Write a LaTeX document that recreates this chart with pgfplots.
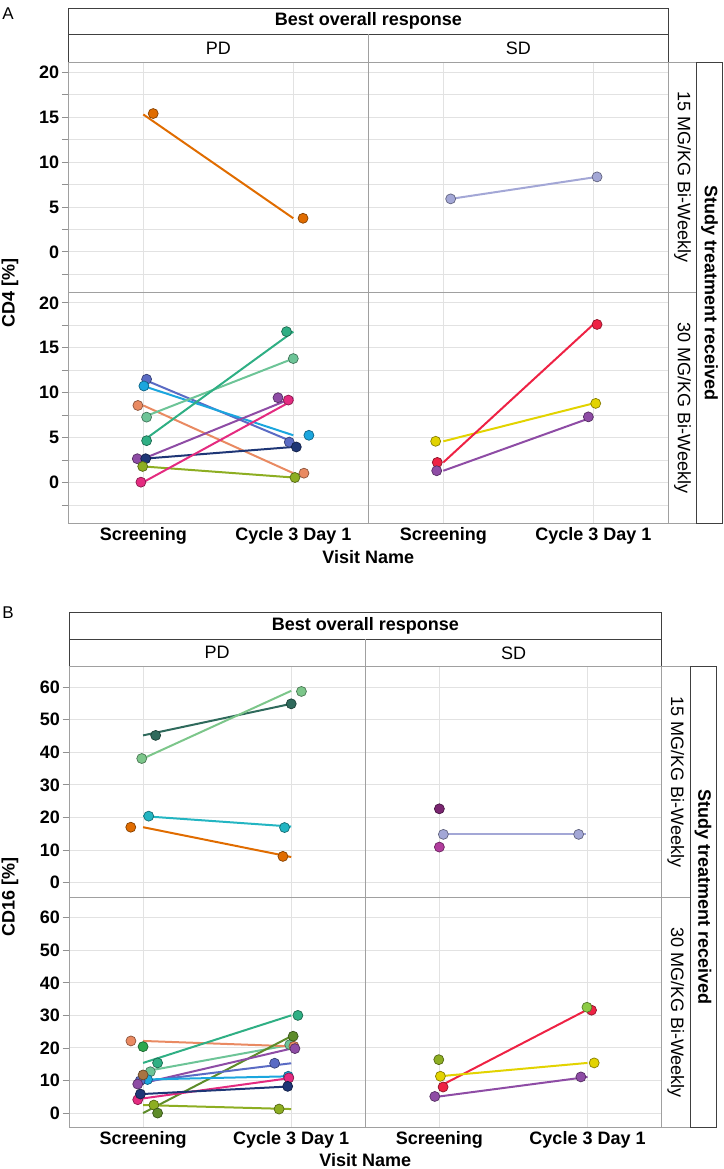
\documentclass[border=0pt]{standalone}
\usepackage{fontspec}
\setmainfont{Liberation Sans}
\usepackage{pgfplots}
\pgfplotsset{compat=1.18}
\definecolor{framegray}{HTML}{A0A0A0}
\definecolor{gridgray}{HTML}{E2E2E2}
\definecolor{tickgray}{HTML}{909090}
\definecolor{boxdark}{HTML}{404040}
\definecolor{cOrange}{HTML}{E06C00}
\definecolor{cLav}{HTML}{A3A7D6}
\definecolor{cSlate}{HTML}{5A6BC4}
\definecolor{cCyan}{HTML}{1BA6DE}
\definecolor{cSalmon}{HTML}{E98A62}
\definecolor{cLGreen}{HTML}{6DC497}
\definecolor{cTeal}{HTML}{2FAF84}
\definecolor{cPurple}{HTML}{8E4CA5}
\definecolor{cNavy}{HTML}{1E3676}
\definecolor{cOlive}{HTML}{8DAE22}
\definecolor{cPink}{HTML}{E42B80}
\definecolor{cYellow}{HTML}{E2D300}
\definecolor{cRed}{HTML}{EE2244}
\definecolor{cDTeal}{HTML}{2F6A5C}
\definecolor{cLGreenB}{HTML}{7CC68A}
\definecolor{cCyTeal}{HTML}{23B5C2}
\definecolor{cDMag}{HTML}{7A2570}
\definecolor{cMag}{HTML}{B13C9D}
\definecolor{cGreen}{HTML}{2DA84E}
\definecolor{cBrown}{HTML}{A77443}
\definecolor{cDOlive}{HTML}{5E8C2A}
\definecolor{cLime}{HTML}{8CCB45}
\newcommand\fs{\fontsize{18}{21}\selectfont}
\pgfplotsset{
  facet/.style={
    scale only axis, width=300pt, height=230.65pt,
    xmin=-0.5, xmax=1.5, xtick={0,1}, xticklabels={},
    axis line style={draw=framegray, line width=0.9pt},
    grid=both,
    major grid style={draw=gridgray, line width=0.9pt},
    minor grid style={draw=gridgray, line width=0.9pt},
    tick align=outside, ytick pos=left, xtick pos=bottom,
    xtick style={draw=none},
    ytick style={draw=tickgray, line width=0.8pt},
    major tick length=6.5pt, minor tick length=6.5pt,
    tick label style={font=\fs\bfseries},
    yticklabel style={inner sep=0pt, xshift=-2.5pt},
    xticklabel style={inner sep=0pt, yshift=3pt},
    /pgf/number format/assume math mode=true,
  },
  facetA/.style={facet, ymin=-4.54, ymax=21.14, ytick={0,5,10,15,20}, minor ytick={-2.5,2.5,7.5,12.5,17.5}},
  facetB/.style={facet, width=296.3pt, height=230.5pt, ymin=-4.5, ymax=66.3, ytick={0,10,20,30,40,50,60}},
  right/.style={yticklabels={}, ytick style={draw=none}},
  bottomlab/.style={xticklabels={Screening,Cycle 3 Day 1}},
  ln/.style={line width=2pt, color=#1, mark=none, forget plot},
  pt/.style={only marks, mark=*, mark size=5pt, forget plot, mark options={fill=#1, draw=#1!60!black, line width=0.7pt}},
}
\begin{document}
\begin{tikzpicture}[x=1pt,y=1pt]
\useasboundingbox (0,0) rectangle (723,-1169);
% ================= Panel A =================
\node[font=\fontsize{17}{20}\selectfont] at (8,-13.3) {A};
\draw[boxdark, line width=0.9pt] (68.3,-8.3) rectangle (668.3,-34);
\node[font=\fs\bfseries] at (368.3,-21.2) {Best overall response};
\draw[boxdark, line width=0.9pt] (68.3,-34) rectangle (668.3,-62);
\draw[framegray, line width=0.9pt] (368.3,-34) -- (368.3,-62);
\node[font=\fs] at (218.3,-48) {PD};
\node[font=\fs] at (518.3,-48) {SD};
\draw[framegray, line width=0.9pt] (668.3,-62) rectangle (696.7,-523.3);
\draw[framegray, line width=0.9pt] (668.3,-292.65) -- (696.7,-292.65);
\draw[boxdark, line width=0.9pt] (696.7,-62) rectangle (722.3,-523.3);
\node[font=\fs, rotate=-90] at (682.5,-177.3) {15 MG/KG Bi-Weekly};
\node[font=\fs, rotate=-90] at (682.5,-408) {30 MG/KG Bi-Weekly};
\node[font=\fs\bfseries, rotate=-90] at (709.5,-292.7) {Study treatment received};
\node[font=\fs\bfseries, rotate=90] at (10,-292.7) {CD4 [\%]};
\node[font=\fs\bfseries, inner sep=1pt] at (368.3,-557) {Visit Name};

\begin{axis}[facetA, at={(68.3pt,-62pt)}, anchor=north west]
\addplot[ln=cOrange] coordinates {(0,15.3) (1,3.74)};
\addplot[pt=cOrange] coordinates {(0.066,15.4) (1.065,3.74)};
\end{axis}
\begin{axis}[facetA, right, at={(368.3pt,-62pt)}, anchor=north west]
\addplot[ln=cLav] coordinates {(0.049,5.9) (1.025,8.35)};
\addplot[pt=cLav] coordinates {(0.049,5.9) (1.025,8.35)};
\end{axis}
\begin{axis}[facetA, bottomlab, at={(68.3pt,-292.65pt)}, anchor=north west]
\addplot[ln=cSlate] coordinates {(0,11.5) (1,4.5)};
\addplot[ln=cCyan] coordinates {(0,10.75) (1,5.26)};
\addplot[ln=cSalmon] coordinates {(0,8.58) (1,1.04)};
\addplot[ln=cLGreen] coordinates {(0,7.28) (1,13.8)};
\addplot[ln=cTeal] coordinates {(0,4.66) (1,16.8)};
\addplot[ln=cPurple] coordinates {(0,2.65) (1,9.44)};
\addplot[ln=cNavy] coordinates {(0,2.65) (1,3.96)};
\addplot[ln=cOlive] coordinates {(0,1.79) (1,0.56)};
\addplot[ln=cPink] coordinates {(0,0.04) (1,9.18)};
\addplot[pt=cSlate] coordinates {(0.022,11.5) (0.973,4.5)};
\addplot[pt=cCyan] coordinates {(0.004,10.75) (1.104,5.26)};
\addplot[pt=cSalmon] coordinates {(-0.036,8.58) (1.071,1.04)};
\addplot[pt=cLGreen] coordinates {(0.022,7.28) (1.0,13.8)};
\addplot[pt=cTeal] coordinates {(0.022,4.66) (0.955,16.8)};
\addplot[pt=cPurple] coordinates {(-0.04,2.65) (0.898,9.44)};
\addplot[pt=cNavy] coordinates {(0.016,2.65) (1.02,3.96)};
\addplot[pt=cOlive] coordinates {(-0.004,1.79) (1.011,0.56)};
\addplot[pt=cPink] coordinates {(-0.016,0.04) (0.967,9.18)};
\end{axis}
\begin{axis}[facetA, right, bottomlab, at={(368.3pt,-292.65pt)}, anchor=north west]
\addplot[ln=cYellow] coordinates {(0,4.59) (1,8.81)};
\addplot[ln=cRed] coordinates {(0,2.24) (1,17.6)};
\addplot[ln=cPurple] coordinates {(0,1.31) (1,7.31)};
\addplot[pt=cYellow] coordinates {(-0.051,4.59) (1.016,8.81)};
\addplot[pt=cRed] coordinates {(-0.04,2.24) (1.025,17.6)};
\addplot[pt=cPurple] coordinates {(-0.044,1.31) (0.967,7.31)};
\end{axis}

% ================= Panel B =================
\node[font=\fontsize{17}{20}\selectfont] at (8,-613) {B};
\draw[boxdark, line width=0.9pt] (69,-612.7) rectangle (661.7,-639);
\node[font=\fs\bfseries] at (365.3,-625.8) {Best overall response};
\draw[boxdark, line width=0.9pt] (69,-639) rectangle (661.7,-666.7);
\draw[framegray, line width=0.9pt] (365.3,-639) -- (365.3,-666.7);
\node[font=\fs] at (217.2,-652.8) {PD};
\node[font=\fs] at (513.5,-652.8) {SD};
\draw[framegray, line width=0.9pt] (661.7,-666.7) rectangle (690,-1127.7);
\draw[framegray, line width=0.9pt] (661.7,-897.2) -- (690,-897.2);
\draw[boxdark, line width=0.9pt] (690,-666.7) rectangle (716,-1127.7);
\node[font=\fs, rotate=-90] at (675.8,-782) {15 MG/KG Bi-Weekly};
\node[font=\fs, rotate=-90] at (675.8,-1012.5) {30 MG/KG Bi-Weekly};
\node[font=\fs\bfseries, rotate=-90] at (703,-897.2) {Study treatment received};
\node[font=\fs\bfseries, rotate=90] at (10,-897.2) {CD16 [\%]};
\node[font=\fs\bfseries, inner sep=1pt] at (365.3,-1160.5) {Visit Name};

\begin{axis}[facetB, at={(69pt,-666.7pt)}, anchor=north west]
\addplot[ln=cDTeal] coordinates {(0,45.2) (1,54.9)};
\addplot[ln=cLGreenB] coordinates {(0,38.1) (1,58.9)};
\addplot[ln=cCyTeal] coordinates {(0,20.4) (1,17.2)};
\addplot[ln=cOrange] coordinates {(0,17.0) (1,7.84)};
\addplot[pt=cDTeal] coordinates {(0.085,45.2) (1.0,54.9)};
\addplot[pt=cLGreenB] coordinates {(-0.009,38.1) (1.069,58.7)};
\addplot[pt=cCyTeal] coordinates {(0.038,20.4) (0.955,16.9)};
\addplot[pt=cOrange] coordinates {(-0.083,17.0) (0.944,8.04)};
\end{axis}
\begin{axis}[facetB, right, at={(365.3pt,-666.7pt)}, anchor=north west]
\addplot[ln=cLav] coordinates {(0,14.8) (0.99,14.8)};
\addplot[pt=cDMag] coordinates {(0,22.65)};
\addplot[pt=cMag] coordinates {(0,10.9)};
\addplot[pt=cLav] coordinates {(0.027,14.8) (0.94,14.8)};
\end{axis}
\begin{axis}[facetB, bottomlab, at={(69pt,-897.2pt)}, anchor=north west]
\addplot[ln=cLGreen] coordinates {(0,12.7) (1,21.0)};
\addplot[ln=cSalmon] coordinates {(0,22.15) (1,20.5)};
\addplot[ln=cTeal] coordinates {(0,15.4) (1,30.0)};
\addplot[ln=cDOlive] coordinates {(0,0.0) (1,23.6)};
\addplot[ln=cPurple] coordinates {(0,9.2) (1,19.8)};
\addplot[ln=cSlate] coordinates {(0,9.7) (1,15.3)};
\addplot[ln=cCyan] coordinates {(0,10.3) (1,11.3)};
\addplot[ln=cPink] coordinates {(0,4.5) (1,10.8)};
\addplot[ln=cNavy] coordinates {(0,5.85) (1,8.2)};
\addplot[ln=cOlive] coordinates {(0,2.46) (1,1.23)};
\addplot[pt=cLGreen] coordinates {(0.049,12.7) (0.99,21.0)};
\addplot[pt=cSalmon] coordinates {(-0.082,22.15) (1.018,20.5)};
\addplot[pt=cGreen] coordinates {(0,20.4)};
\addplot[pt=cTeal] coordinates {(0.098,15.4) (1.045,30.0)};
\addplot[pt=cCyan] coordinates {(0.03,10.3) (0.98,11.3)};
\addplot[pt=cSlate] coordinates {(-0.02,9.9) (0.888,15.3)};
\addplot[pt=cBrown] coordinates {(0,11.7)};
\addplot[pt=cPurple] coordinates {(-0.036,8.9) (1.025,19.8)};
\addplot[pt=cPink] coordinates {(-0.036,4.1) (0.984,10.8)};
\addplot[pt=cNavy] coordinates {(-0.018,5.85) (0.976,8.2)};
\addplot[pt=cOlive] coordinates {(0.073,2.46) (0.918,1.23)};
\addplot[pt=cDOlive] coordinates {(0.098,0.0) (1.013,23.6)};
\end{axis}
\begin{axis}[facetB, right, bottomlab, at={(365.3pt,-897.2pt)}, anchor=north west]
\addplot[ln=cRed] coordinates {(0,8.2) (1,31.8)};
\addplot[ln=cYellow] coordinates {(0,11.3) (1,15.4)};
\addplot[ln=cPurple] coordinates {(0,5.1) (1,11.1)};
\addplot[pt=cOlive] coordinates {(-0.004,16.4)};
\addplot[pt=cRed] coordinates {(0.025,8.0) (1.027,31.6)};
\addplot[pt=cLime] coordinates {(0.996,32.5)};
\addplot[pt=cYellow] coordinates {(0.007,11.3) (1.045,15.4)};
\addplot[pt=cPurple] coordinates {(-0.031,5.1) (0.955,11.1)};
\end{axis}
\end{tikzpicture}
\end{document}
